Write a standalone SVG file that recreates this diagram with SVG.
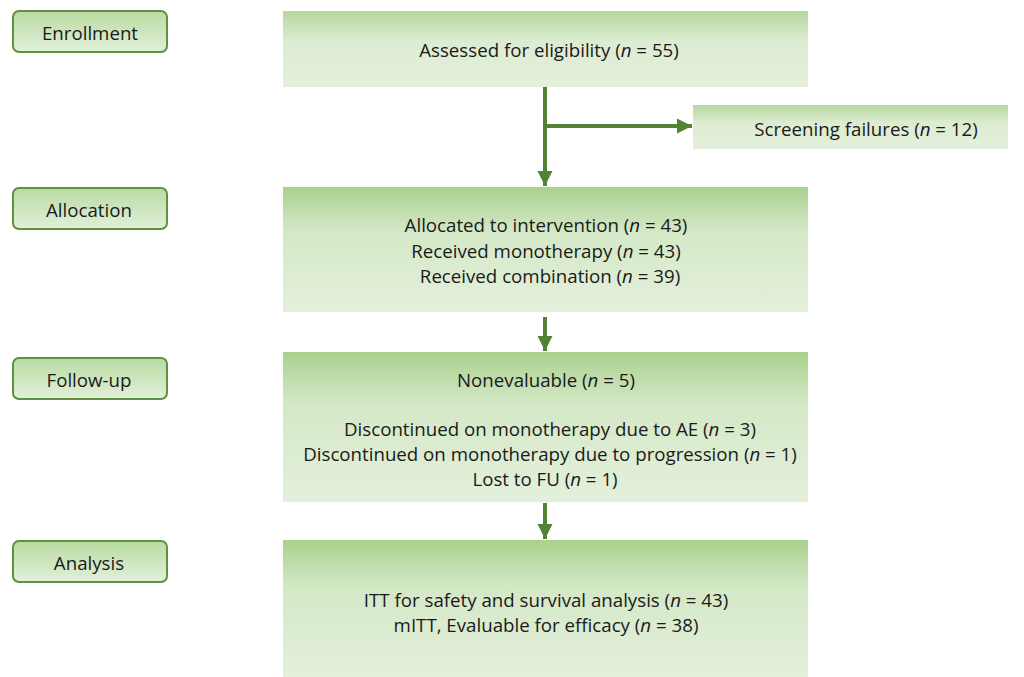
<svg xmlns="http://www.w3.org/2000/svg" width="1024" height="677" viewBox="0 0 1024 677">
<defs>
<linearGradient id="gMain" x1="0" y1="0" x2="0" y2="1">
<stop offset="0" stop-color="#a9d18e"/>
<stop offset="0.35" stop-color="#d4e8c6"/>
<stop offset="1" stop-color="#e4f0dc"/>
</linearGradient>
<linearGradient id="gTop" x1="0" y1="0" x2="0" y2="1">
<stop offset="0" stop-color="#b5d79d"/>
<stop offset="0.4" stop-color="#dcecd1"/>
<stop offset="1" stop-color="#e4f0dc"/>
</linearGradient>
<linearGradient id="gLbl" x1="0" y1="0" x2="0" y2="1">
<stop offset="0" stop-color="#b9dba2"/>
<stop offset="1" stop-color="#e2f0d9"/>
</linearGradient>
<marker id="ah" viewBox="0 0 10 10" refX="10" refY="5" markerWidth="3.8" markerHeight="3.8" markerUnits="strokeWidth" orient="auto">
<path d="M0,0 L10,5 L0,10 z" fill="#548235"/>
</marker>
</defs>
<style>
text{font-family:"Open Sans","Liberation Sans",Arial,sans-serif;font-size:18.7px;fill:#1a1a1a;text-anchor:middle;dominant-baseline:central}
.lbl{fill:url(#gLbl);stroke:#5f9140;stroke-width:2}
.main{fill:url(#gMain)}
.con{stroke:#548235;stroke-width:4;fill:none}
</style>
<rect width="1024" height="677" fill="#ffffff"/>
<g id="enrollment-label"><rect class="lbl" x="13" y="11" width="154" height="41" rx="6"/><text x="90" y="32">Enrollment</text></g>
<g id="allocation-label"><rect class="lbl" x="13" y="188" width="154" height="41" rx="6"/><text x="89" y="209">Allocation</text></g>
<g id="followup-label"><rect class="lbl" x="13" y="358" width="154" height="41" rx="6"/><text x="89" y="379">Follow-up</text></g>
<g id="analysis-label"><rect class="lbl" x="13" y="541" width="154" height="41" rx="6"/><text x="89" y="562">Analysis</text></g>

<g id="assessed"><rect class="main" style="fill:url(#gTop)" x="283" y="11" width="525" height="76"/><text x="549" y="49">Assessed for eligibility (<tspan font-style="italic">n</tspan> = 55)</text></g>
<g id="screening"><rect class="main" style="fill:url(#gTop)" x="693" y="105" width="315" height="44"/><text x="866" y="128">Screening failures (<tspan font-style="italic">n</tspan> = 12)</text></g>
<g id="allocated"><rect class="main" x="283" y="187" width="525" height="125"/>
<text x="546" y="224">Allocated to intervention (<tspan font-style="italic">n</tspan> = 43)</text>
<text x="546" y="250">Received monotherapy (<tspan font-style="italic">n</tspan> = 43)</text>
<text x="550" y="275">Received combination (<tspan font-style="italic">n</tspan> = 39)</text></g>
<g id="followup"><rect class="main" x="283" y="352" width="525" height="150"/>
<text x="546" y="379">Nonevaluable (<tspan font-style="italic">n</tspan> = 5)</text>
<text x="550" y="428">Discontinued on monotherapy due to AE (<tspan font-style="italic">n</tspan> = 3)</text>
<text x="550" y="453">Discontinued on monotherapy due to progression (<tspan font-style="italic">n</tspan> = 1)</text>
<text x="545" y="478">Lost to FU (<tspan font-style="italic">n</tspan> = 1)</text></g>
<g id="analysis"><rect class="main" x="283" y="540" width="525" height="137"/>
<text x="546" y="599">ITT for safety and survival analysis (<tspan font-style="italic">n</tspan> = 43)</text>
<text x="546" y="624">mITT, Evaluable for efficacy (<tspan font-style="italic">n</tspan> = 38)</text></g>

<g id="connectors">
<path class="con" d="M545,87 V186" marker-end="url(#ah)"/>
<path class="con" d="M545,126 H692" marker-end="url(#ah)"/>
<path class="con" d="M545,317 V351" marker-end="url(#ah)"/>
<path class="con" d="M545,503 V539" marker-end="url(#ah)"/>
</g>
</svg>
